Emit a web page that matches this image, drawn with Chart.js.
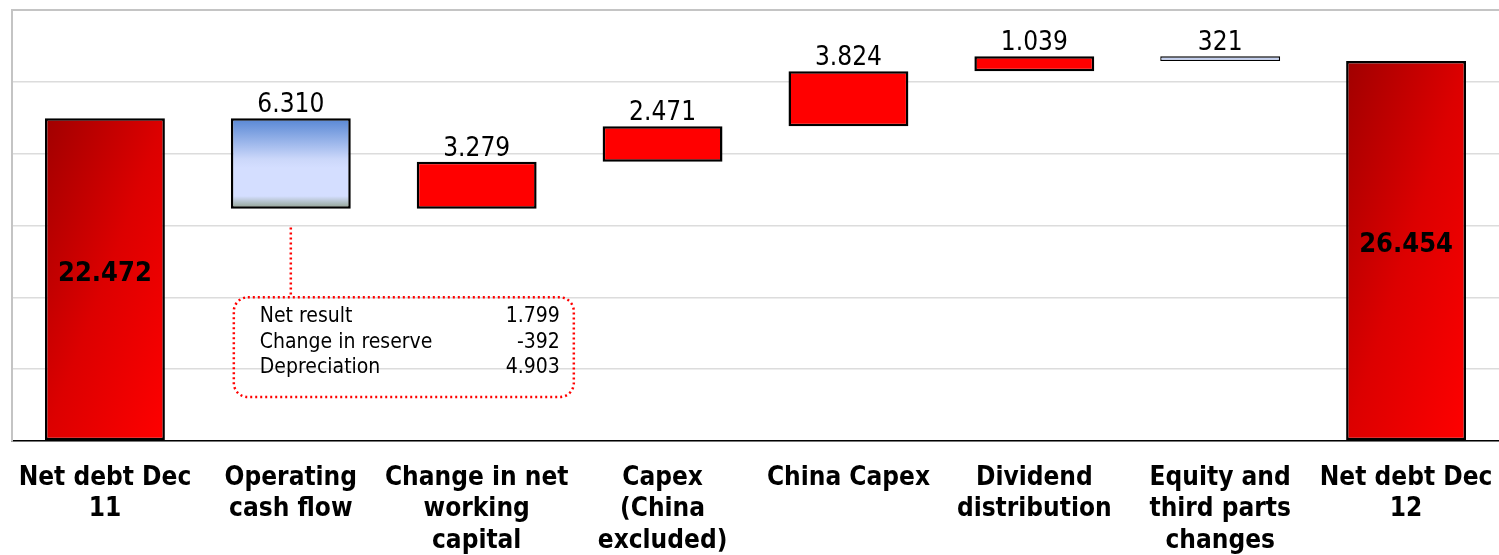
<!DOCTYPE html>
<html>
<head>
<meta charset="utf-8">
<script src="https://cdn.jsdelivr.net/npm/chart.js"></script>
<style>
  html, body { margin: 0; padding: 0; background: #ffffff; }
  #wrap { width: 1499px; height: 555px; position: relative; }
</style>
</head>
<body>
<div id="wrap"><canvas id="chart"></canvas></div>
<script>
// Net debt bridge Dec 11 -> Dec 12
const categories = [
  ['Net debt Dec', '11'],
  ['Operating', 'cash flow'],
  ['Change in net', 'working', 'capital'],
  ['Capex', '(China', 'excluded)'],
  ['China Capex'],
  ['Dividend', 'distribution'],
  ['Equity and', 'third parts', 'changes'],
  ['Net debt Dec', '12']
];
const openingDebt = 22472;
const movements = [-6310, 3279, 2471, 3824, 1039, -321];
const closingDebt = 26454;

// breakdown of the operating cash flow
const breakdownLabels = ['Net result', 'Change in reserve', 'Depreciation'];
const breakdownValues = [1799, -392, 4903];

const yTicks = { min: 0, max: 30000, step: 5000 };

const FONT = "'DejaVu Sans Condensed', 'DejaVu Sans', sans-serif";
const BAR_PCT = 0.645;

function fmt(v) {
  const s = Math.abs(v).toString().replace(/\B(?=(\d{3})+(?!\d))/g, '.');
  return v < 0 ? '-' + s : s;
}

// floating ranges for the waterfall
const ranges = [[0, openingDebt]];
const labels = [fmt(openingDebt)];
let level = openingDebt;
movements.forEach(m => {
  ranges.push([level, level + m]);
  labels.push(fmt(Math.abs(m)));
  level += m;
});
ranges.push([0, closingDebt]);
labels.push(fmt(closingDebt));

const isTotal = i => i === 0 || i === ranges.length - 1;

function barBox(chart, i) {
  const xs = chart.scales.x, ys = chart.scales.y;
  const w = xs.width / categories.length * BAR_PCT;
  const cx = xs.getPixelForValue(i);
  const [a, b] = ranges[i];
  return {
    left: cx - w / 2, right: cx + w / 2, w: w,
    top: ys.getPixelForValue(Math.max(a, b)),
    bottom: ys.getPixelForValue(Math.min(a, b))
  };
}

function barFill(ctx) {
  const chart = ctx.chart;
  const i = ctx.dataIndex;
  const up = ranges[i][1] >= ranges[i][0];
  if (!chart.chartArea || !chart.scales.x || !chart.scales.y) {
    return isTotal(i) || up ? '#e00000' : '#d0dbfc';
  }
  const g = chart.ctx;
  const bx = barBox(chart, i);
  const h = Math.max(bx.bottom - bx.top, 1);
  if (isTotal(i)) {
    // diagonal gradient, normalised to the bar box
    const k = 2 / (1 / (bx.w * bx.w) + 1 / (h * h));
    const grad = g.createLinearGradient(bx.left, bx.top, bx.left + k / bx.w, bx.top + k / h);
    grad.addColorStop(0, '#a00000');
    grad.addColorStop(0.5, '#dc0000');
    grad.addColorStop(1, '#ff0000');
    return grad;
  }
  if (up) return '#ff0000';
  if (h < 10) return '#c4d0f0';
  const grad = g.createLinearGradient(0, bx.top, 0, bx.bottom);
  grad.addColorStop(0, '#5686d4');
  grad.addColorStop(0.45, '#cbd7fa');
  grad.addColorStop(0.55, '#d4deff');
  grad.addColorStop(0.86, '#d4deff');
  grad.addColorStop(1, '#8c9e8a');
  return grad;
}

function barBorder(ctx) {
  const r = ranges[ctx.dataIndex];
  return Math.abs(r[1] - r[0]) < 600 ? 1.3 : 2.5;
}

const annotations = {
  id: 'annotations',
  afterDatasetsDraw(chart) {
    const g = chart.ctx;
    const ys = chart.scales.y;
    g.save();
    g.fillStyle = '#000';
    g.textAlign = 'center';

    // value labels
    ranges.forEach((r, i) => {
      const bx = barBox(chart, i);
      const cx = (bx.left + bx.right) / 2;
      if (isTotal(i)) {
        g.font = 'bold 27px ' + FONT;
        g.textBaseline = 'middle';
        g.fillText(labels[i], cx, (bx.top + bx.bottom) / 2 - 6);
      } else {
        g.font = '26px ' + FONT;
        g.textBaseline = 'alphabetic';
        g.fillText(labels[i], cx, bx.top - 6);
      }
    });

    // operating cash flow breakdown box
    const ocf = barBox(chart, 1);
    const cx = (ocf.left + ocf.right) / 2;
    const boxL = cx - 57, boxR = cx + 283;
    const boxT = ys.getPixelForValue(10000);
    const boxB = ys.getPixelForValue(3060);
    g.strokeStyle = '#ff0000';
    g.lineWidth = 2.5;
    g.setLineDash([2, 3]);
    g.beginPath();
    g.moveTo(cx, ys.getPixelForValue(15000) + 2);
    g.lineTo(cx, boxT);
    g.stroke();
    g.beginPath();
    g.roundRect(boxL, boxT, boxR - boxL, boxB - boxT, 14);
    g.stroke();
    g.setLineDash([]);

    g.font = '21px ' + FONT;
    g.textBaseline = 'alphabetic';
    breakdownLabels.forEach((name, j) => {
      const y = boxT + 25 + j * 25.5;
      g.textAlign = 'left';
      g.fillText(name, boxL + 26, y);
      g.textAlign = 'right';
      g.fillText(fmt(breakdownValues[j]), boxR - 14, y);
    });
    g.restore();
  }
};

new Chart(document.getElementById('chart'), {
  type: 'bar',
  data: {
    labels: categories,
    datasets: [{
      data: ranges,
      backgroundColor: barFill,
      borderColor: '#000000',
      borderWidth: barBorder,
      borderSkipped: false,
      barPercentage: BAR_PCT,
      categoryPercentage: 1
    }]
  },
  options: {
    responsive: true,
    maintainAspectRatio: false,
    animation: false,
    layout: { padding: { left: 12, top: 10, right: 0, bottom: 0 } },
    plugins: {
      legend: { display: false },
      tooltip: { enabled: false }
    },
    scales: {
      x: {
        grid: { display: false },
        border: { display: true, color: '#000000', width: 1.5 },
        ticks: {
          color: '#000000',
          padding: 13,
          maxRotation: 0,
          autoSkip: false,
          font: { family: FONT, size: 26, weight: 'bold', lineHeight: 1.22 }
        },
        afterFit: s => {
          s.height = 114;
          s.paddingLeft = 0;
          s.paddingRight = 0;
        }
      },
      y: {
        min: yTicks.min,
        max: yTicks.max,
        ticks: { display: false, stepSize: yTicks.step },
        grid: {
          drawTicks: false,
          color: c => c.tick && c.tick.value === yTicks.max ? '#c4c4c4' : '#dcdcdc',
          lineWidth: c => c.tick && c.tick.value === yTicks.max ? 2 : 1.5
        },
        border: { display: true, color: '#c4c4c4', width: 2 },
        afterFit: s => { s.width = 0; }
      }
    }
  },
  plugins: [annotations]
});
</script>
</body>
</html>
